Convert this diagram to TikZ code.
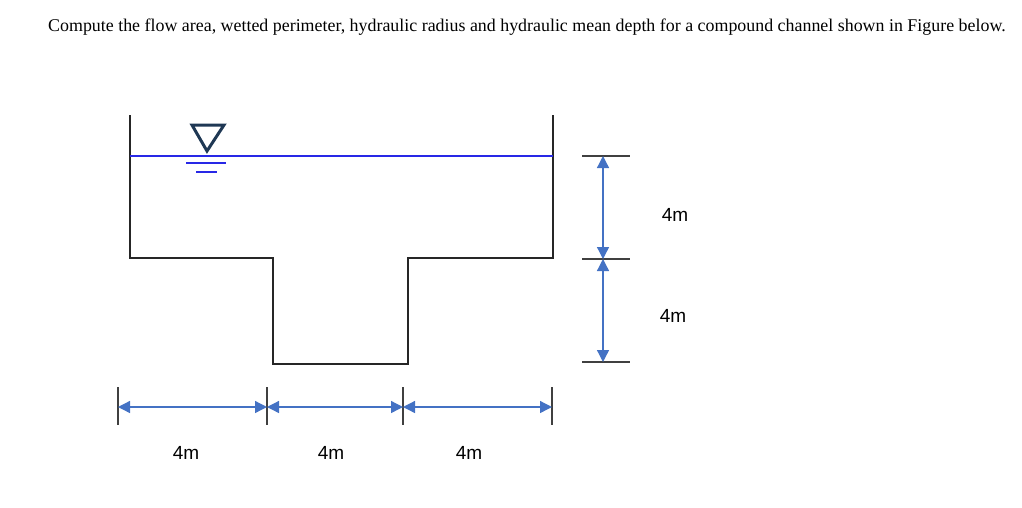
\documentclass[tikz,border=0pt]{standalone}
\usepackage{fontspec}
\setmainfont{Liberation Serif}
\setsansfont{Liberation Sans}
\usetikzlibrary{arrows.meta}
\definecolor{dimblue}{RGB}{68,114,196}
\definecolor{water}{RGB}{40,40,230}
\definecolor{navy}{RGB}{31,56,84}
\tikzset{
  wall/.style={line width=1.6pt,black!85},
  tick/.style={line width=1.4pt,black!75},
  dimline/.style={dimblue,line width=1.3pt,{Triangle[length=12pt,width=12pt]}-{Triangle[length=12pt,width=12pt]}},
  lab/.style={font=\sffamily\fontsize{19}{19}\selectfont,inner sep=0pt}
}
\begin{document}
\begin{tikzpicture}[x=1pt,y=-1pt]
\useasboundingbox (0,0) rectangle (1022,507);
\node[font=\fontsize{17.9}{20}\selectfont,anchor=west,inner sep=0pt] (title) at (48,27) {Compute the flow area, wetted perimeter, hydraulic radius and hydraulic mean depth for a compound channel shown in Figure below.};
% channel
\draw[wall] (130,115) -- (130,258) -- (273,258) -- (273,364) -- (408,364) -- (408,258) -- (553,258) -- (553,115);
\draw[water,line width=1.4pt] (130,156) -- (553,156);
\draw[navy,line width=3pt,line join=miter] (192,125) -- (224,125) -- (207,151) -- cycle;
\draw[water,line width=1.4pt] (186,163) -- (226,163);
\draw[water,line width=1.4pt] (196,172) -- (217,172);
% vertical dims
\coordinate (v1) at (603,156); \coordinate (v2) at (603,259); \coordinate (v3) at (603,362);
\foreach \y in {156,259,362} \draw[tick] (582,\y) -- (630,\y);
\draw[dimline] (v1) -- (v2);
\draw[dimline] (v2) -- (v3);
\node[lab] (l1) at (675,215) {4m};
\node[lab] (l2) at (673,316) {4m};
% horizontal dims
\coordinate (h1) at (118,407); \coordinate (h2) at (267,407); \coordinate (h3) at (403,407); \coordinate (h4) at (552,407);
\foreach \x in {118,267,403,552} \draw[tick] (\x,387) -- (\x,425);
\draw[dimline] (h1) -- (h2);
\draw[dimline] (h2) -- (h3);
\draw[dimline] (h3) -- (h4);
\node[lab] (b1) at (186,453) {4m};
\node[lab] (b2) at (331,453) {4m};
\node[lab] (b3) at (469,453) {4m};
\end{tikzpicture}
\end{document}
